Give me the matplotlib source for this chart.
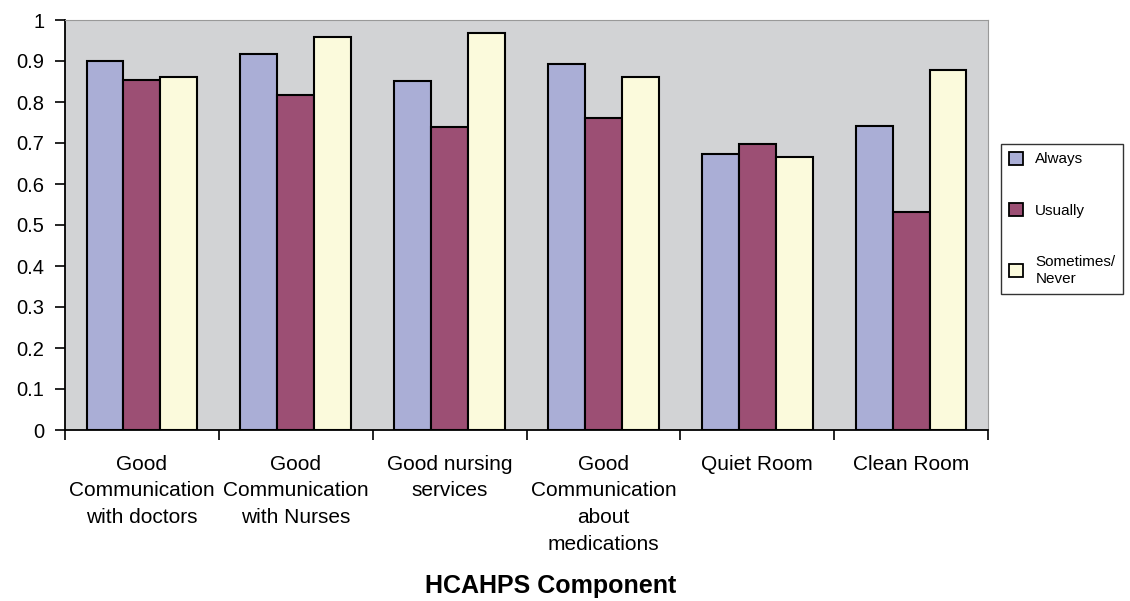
import numpy as np
import matplotlib.pyplot as plt
from matplotlib.patches import Patch

plt.rcParams['font.family'] = ['Liberation Sans', 'DejaVu Sans']

categories = ['Good\nCommunication\nwith doctors', 'Good\nCommunication\nwith Nurses',
              'Good nursing\nservices', 'Good\nCommunication\nabout\nmedications',
              'Quiet Room', 'Clean Room']
always = [0.901, 0.916, 0.851, 0.892, 0.674, 0.742]
usually = [0.853, 0.817, 0.738, 0.760, 0.697, 0.531]
sometimes = [0.862, 0.959, 0.968, 0.861, 0.667, 0.879]
series = ['Always', 'Usually', 'Sometimes/\nNever']
colors = ['#AAAED6', '#9C4F74', '#FBFADC']

fig = plt.figure(figsize=(11.3, 6.01), dpi=100)
ax = fig.add_axes([65/1130, 1 - 430/601, (988-65)/1130, (430-20)/601])
ax.set_facecolor('#D2D3D5')

x = np.arange(len(categories)) + 0.5
w = 0.24
for i, vals in enumerate([always, usually, sometimes]):
    ax.bar(x + (i - 1) * w, vals, w, color=colors[i], edgecolor='black', linewidth=1.5, zorder=3)

ax.set_xlim(0, len(categories))
ax.set_ylim(0, 1)
ax.set_yticks(np.arange(0, 1.01, 0.1))
ax.set_yticklabels(['0', '0.1', '0.2', '0.3', '0.4', '0.5', '0.6', '0.7', '0.8', '0.9', '1'])
ax.set_xticks(np.arange(len(categories) + 1))
ax.set_xticklabels([])
ax.set_xticks(x, minor=True)
ax.set_xticklabels(categories, minor=True, fontsize=15, linespacing=1.5, va='top')
ax.tick_params(axis='x', which='minor', length=0, pad=18)
ax.tick_params(axis='x', which='major', length=7, width=1.2, direction='out')
ax.tick_params(axis='y', length=7, width=1.2, direction='out', labelsize=14.5, pad=8)

for s in ['top', 'right']:
    ax.spines[s].set_color('#999999')
for s in ['left', 'bottom']:
    ax.spines[s].set_color('black')
    ax.spines[s].set_linewidth(1.3)

fig.text(551/1130, 1 - 586/601, 'HCAHPS Component', ha='center', va='center',
         fontsize=18, fontweight='bold')

handles = [Patch(facecolor=c, edgecolor='black', linewidth=1.3) for c in colors]
leg = fig.legend(handles, series, loc='upper left', bbox_to_anchor=(1001/1130, 1 - 144/601),
                 fontsize=11, frameon=True, fancybox=False, edgecolor='black',
                 handlelength=0.95, handleheight=0.95, labelspacing=2.4, borderpad=0.5,
                 borderaxespad=0, handletextpad=0.8)
leg.get_frame().set_linewidth(1.0)
for t in leg.get_texts():
    t.set_linespacing(1.3)

plt.savefig('out.png', dpi=100)
